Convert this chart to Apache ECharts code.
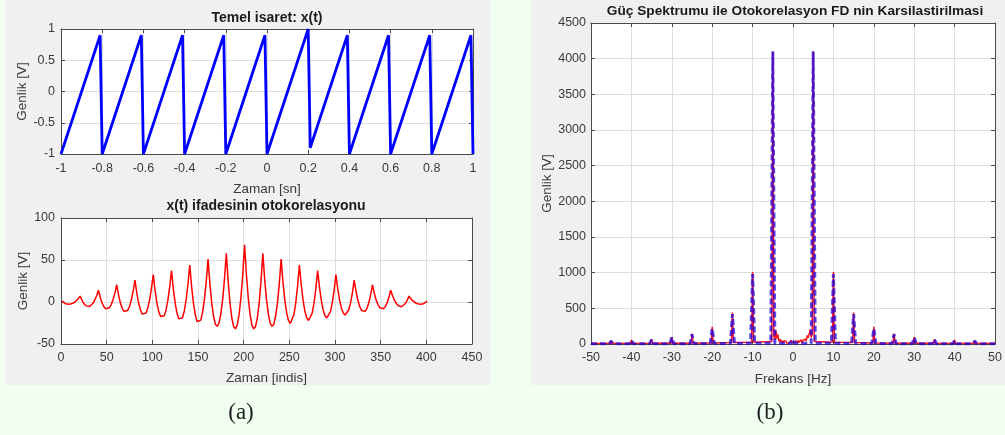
<!DOCTYPE html>
<html>
<head>
<meta charset="utf-8">
<title>Otokorelasyon ve Güç Spektrumu</title>
<script src="https://cdn.jsdelivr.net/npm/echarts@6/dist/echarts.min.js"></script>
<style>
  html, body { margin: 0; padding: 0; background: #f0fff0; }
  #wrap { position: relative; width: 1005px; height: 435px; overflow: hidden; }
  .panel { position: absolute; background: #f0f0f0; }
  #chart { position: absolute; left: 0; top: 0; width: 1005px; height: 435px; }
</style>
</head>
<body>
<div id="wrap">
  <div class="panel" style="left:5px;top:0;width:485px;height:385px"></div>
  <div class="panel" style="left:531px;top:0;width:474px;height:385px"></div>
  <div id="chart"></div>
</div>
<script>
// Sawtooth x(t): corner points of the waveform (time in s, amplitude in V)
const sawTime  = [-1, -0.81, -0.8, -0.61, -0.6, -0.41, -0.4, -0.21, -0.2, -0.01, 0, 0.2, 0.21, 0.39, 0.4, 0.59, 0.6, 0.79, 0.8, 0.99, 1];
const sawValue = [-1, 0.9, -1, 0.9, -1, 0.9, -1, 0.9, -1, 0.9, -1, 1, -0.9, 0.9, -1, 0.9, -1, 0.9, -1, 0.9, -1];

// Autocorrelation of x(t), every second lag index starting at 1
const acfFirstIndex = 1;
const acfIndexStep = 2;
const acfValues = [
  1, -0.7, -2, -2.7, -2.8, -2.5, -1.6, -0.3, 1.6, 4.1,
  7, 1.9, -1.8, -4.3, -5.6, -5.5, -4.2, -1.5, 2.4, 7.5,
  14, 5.4, -1.2, -5.7, -8.1, -8.5, -6.8, -3.1, 2.7, 10.6,
  20.5, 8.4, -1, -7.5, -11.1, -12, -10, -5.3, 2.3, 12.8,
  26, 10.5, -1.3, -9.6, -14.4, -15.5, -13.1, -7, 2.6, 15.7,
  32.5, 13.6, -1.1, -11.4, -17.3, -19, -16.3, -9.4, 1.9, 17.6,
  37.5, 15.6, -1.4, -13.3, -20.1, -22, -18.8, -10.7, 2.5, 20.8,
  44, 18.4, -1.3, -15.2, -23.3, -25.5, -21.9, -12.4, 2.9, 24,
  51, 21.6, -1, -17, -26.4, -29, -25, -14.2, 3.2, 27.2,
  58, 24.8, -0.8, -18.8, -29.2, -32, -27.2, -14.8, 5.2, 32.8,
  68, 32.8, 5.2, -14.8, -27.2, -32, -29.2, -18.8, -0.8, 24.8,
  58, 27.2, 3.2, -14.2, -25, -29, -26.4, -17, -1, 21.6,
  51, 24, 2.9, -12.4, -21.9, -25.5, -23.3, -15.2, -1.3, 18.4,
  44, 20.8, 2.5, -10.7, -18.8, -22, -20.1, -13.3, -1.4, 15.6,
  37.5, 17.6, 1.9, -9.4, -16.3, -19, -17.3, -11.4, -1.1, 13.6,
  32.5, 15.7, 2.6, -7, -13.1, -15.5, -14.4, -9.6, -1.3, 10.5,
  26, 12.8, 2.3, -5.3, -10, -12, -11.1, -7.5, -1, 8.4,
  20.5, 10.6, 2.7, -3.1, -6.8, -8.5, -8.1, -5.7, -1.2, 5.4,
  14, 7.5, 2.4, -1.5, -4.2, -5.5, -5.6, -4.3, -1.8, 1.9,
  7, 4.1, 1.6, -0.3, -1.6, -2.5, -2.8, -2.7, -2, -0.7,
  1
];

// Fourier transform of the autocorrelation (red, solid)
const acfSpecFreq = [-50, -45.25, -45, -44.75, -40.25, -40, -39.75, -35.25, -35, -34.75, -30.25, -30, -29.75,
  -25.25, -25, -24.75, -20.25, -20, -19.75, -15.25, -15, -14.75, -10.25, -10, -9.75, -5.25, -5,
  -4.75, -4.5, -4.25, -4, -3.75, -3.5, -3.25, -3, -2.75, -2.5, -2.25, -2, -1.75, -1.5, -1.25, -1, -0.75, -0.5, -0.25,
  0, 0.25, 0.5, 0.75, 1, 1.25, 1.5, 1.75, 2, 2.25, 2.5, 2.75, 3, 3.25, 3.5, 3.75, 4, 4.25, 4.5, 4.75, 5,
  5.25, 9.75, 10, 10.25, 14.75, 15, 15.25, 19.75, 20, 20.25, 24.75, 25, 25.25, 29.75, 30, 30.25,
  34.75, 35, 35.25, 39.75, 40, 40.25, 44.75, 45, 45.25, 50];
const acfSpecValue = [6, 8, 48, 8, 8, 55, 8, 10, 68, 10, 10, 95, 10,
  12, 145, 12, 15, 240, 15, 20, 440, 20, 25, 1010, 25, 35, 4100,
  110, 55, 190, 75, 135, 35, 70, 20, 50, 15, 45, 25, 40, 10, 35, 15, 30, 50, 20,
  35, 15, 25, 45, 15, 50, 20, 40, 60, 15, 55, 30, 70, 40, 120, 85, 110, 200, 90, 150, 4100,
  35, 25, 1010, 25, 20, 440, 20, 15, 240, 15, 12, 145, 12, 10, 95, 10,
  10, 68, 10, 8, 55, 8, 8, 48, 8, 6];

// Power spectrum |X(f)|^2 (blue, dashed)
const powerFreq = [-50, -45.5, -45, -44.5, -40.5, -40, -39.5, -35.5, -35, -34.5, -30.5, -30, -29.5,
  -25.5, -25, -24.5, -20.5, -20, -19.5, -15.5, -15, -14.5, -10.5, -10, -9.5, -5.5, -5, -4.5,
  -0.5, 0, 0.5, 4.5, 5, 5.5, 9.5, 10, 10.5, 14.5, 15, 15.5, 19.5, 20, 20.5, 24.5, 25, 25.5,
  29.5, 30, 30.5, 34.5, 35, 35.5, 39.5, 40, 40.5, 44.5, 45, 45.5, 50];
const powerValue = [5, 5, 40, 5, 5, 48, 5, 5, 62, 5, 5, 90, 5,
  5, 135, 5, 8, 215, 8, 8, 420, 8, 10, 980, 10, 10, 4100, 10,
  10, 65, 10, 10, 4100, 10, 10, 980, 10, 8, 420, 8, 8, 215, 8, 5, 135, 5,
  5, 90, 5, 5, 62, 5, 5, 48, 5, 5, 40, 5, 5];

const FONT = '"Liberation Sans", Arial, Helvetica, sans-serif';
const AXIS_COLOR = '#4a4a4a';
const TEXT_COLOR = '#3a3a3a';
const GRID_COLOR = '#dedede';

function zip(xs, ys) { return xs.map((x, i) => [x, ys[i]]); }
// plain tick text, no thousands separators
function plain(v) { return String(Math.round(v * 1000) / 1000); }

function bottomAxis(grid, min, max, step, name, gap, fs, margin) {
  return {
    type: 'value', gridIndex: grid, position: 'bottom', min: min, max: max, interval: step,
    name: name, nameLocation: 'middle', nameGap: gap,
    nameTextStyle: { fontFamily: FONT, fontSize: 13.5, color: TEXT_COLOR },
    axisLine: { show: true, onZero: false, lineStyle: { color: AXIS_COLOR, width: 1 } },
    axisTick: { show: true, inside: true, length: 4, lineStyle: { color: AXIS_COLOR } },
    axisLabel: { show: true, margin: margin, fontFamily: FONT, fontSize: fs, color: TEXT_COLOR,
                 showMinLabel: true, showMaxLabel: true, formatter: plain },
    splitLine: { show: true, lineStyle: { color: GRID_COLOR, width: 1 } }
  };
}
function topAxis(grid, min, max, step) {
  return {
    type: 'value', gridIndex: grid, position: 'top', min: min, max: max, interval: step,
    axisLine: { show: true, onZero: false, lineStyle: { color: AXIS_COLOR, width: 1 } },
    axisTick: { show: true, inside: true, length: 4, lineStyle: { color: AXIS_COLOR } },
    axisLabel: { show: false }, splitLine: { show: false }
  };
}
function leftAxis(grid, min, max, step, name, gap, fs, margin) {
  return {
    type: 'value', gridIndex: grid, position: 'left', min: min, max: max, interval: step,
    name: name, nameLocation: 'middle', nameGap: gap,
    nameTextStyle: { fontFamily: FONT, fontSize: 13.5, color: TEXT_COLOR },
    axisLine: { show: true, onZero: false, lineStyle: { color: AXIS_COLOR, width: 1 } },
    axisTick: { show: true, inside: true, length: 4, lineStyle: { color: AXIS_COLOR } },
    axisLabel: { show: true, margin: margin, fontFamily: FONT, fontSize: fs, color: TEXT_COLOR,
                 showMinLabel: true, showMaxLabel: true, formatter: plain },
    splitLine: { show: true, lineStyle: { color: GRID_COLOR, width: 1 } }
  };
}
function rightAxis(grid, min, max, step) {
  return {
    type: 'value', gridIndex: grid, position: 'right', min: min, max: max, interval: step,
    axisLine: { show: true, onZero: false, lineStyle: { color: AXIS_COLOR, width: 1 } },
    axisTick: { show: true, inside: true, length: 4, lineStyle: { color: AXIS_COLOR } },
    axisLabel: { show: false }, splitLine: { show: false }
  };
}

const acfData = acfValues.map((v, i) => [acfFirstIndex + i * acfIndexStep, v]);

const chart = echarts.init(document.getElementById('chart'), null, { renderer: 'canvas' });
chart.setOption({
  backgroundColor: 'transparent',
  animation: false,
  grid: [
    { left: 61, top: 29, width: 412, height: 125, show: true, backgroundColor: '#ffffff', borderWidth: 0 },
    { left: 61, top: 218, width: 411, height: 126, show: true, backgroundColor: '#ffffff', borderWidth: 0 },
    { left: 591, top: 23, width: 408, height: 321, show: true, backgroundColor: '#ffffff', borderWidth: 0 }
  ],
  xAxis: [
    bottomAxis(0, -1, 1, 0.2, 'Zaman [sn]', 28, 12.5, 8),
    topAxis(0, -1, 1, 0.2),
    bottomAxis(1, 0, 450, 50, 'Zaman [indis]', 27, 12.5, 7),
    topAxis(1, 0, 450, 50),
    bottomAxis(2, -50, 50, 10, 'Frekans [Hz]', 28, 12.5, 7),
    topAxis(2, -50, 50, 10)
  ],
  yAxis: [
    leftAxis(0, -1, 1, 0.5, 'Genlik [V]', 31, 12.5, 6),
    rightAxis(0, -1, 1, 0.5),
    leftAxis(1, -50, 100, 50, 'Genlik [V]', 31, 12.5, 6),
    rightAxis(1, -50, 100, 50),
    leftAxis(2, 0, 4500, 500, 'Genlik [V]', 33, 12.5, 5),
    rightAxis(2, 0, 4500, 500)
  ],
  graphic: [
    { type: 'text', x: 267, y: 18, style: { text: 'Temel isaret: x(t)', fontFamily: FONT, fontSize: 14, fontWeight: 'bold', fill: '#1a1a1a', align: 'center', verticalAlign: 'middle' } },
    { type: 'text', x: 266, y: 206, style: { text: 'x(t) ifadesinin otokorelasyonu', fontFamily: FONT, fontSize: 14, fontWeight: 'bold', fill: '#1a1a1a', align: 'center', verticalAlign: 'middle' } },
    { type: 'text', x: 795, y: 11, style: { text: 'Güç Spektrumu ile Otokorelasyon FD nin Karsilastirilmasi', fontFamily: FONT, fontSize: 13.7, fontWeight: 'bold', fill: '#1a1a1a', align: 'center', verticalAlign: 'middle' } },
    { type: 'text', x: 241, y: 413, style: { text: '(a)', fontFamily: '"Liberation Serif", "DejaVu Serif", serif', fontSize: 23, fill: '#222222', align: 'center', verticalAlign: 'middle' } },
    { type: 'text', x: 770, y: 413, style: { text: '(b)', fontFamily: '"Liberation Serif", "DejaVu Serif", serif', fontSize: 23, fill: '#222222', align: 'center', verticalAlign: 'middle' } }
  ],
  series: [
    {
      name: 'x(t)', type: 'line', xAxisIndex: 0, yAxisIndex: 0,
      data: zip(sawTime, sawValue), showSymbol: false, clip: true,
      lineStyle: { color: '#0000ff', width: 2.8 }
    },
    {
      name: 'Rxx', type: 'line', xAxisIndex: 2, yAxisIndex: 2,
      data: acfData, showSymbol: false, clip: true,
      lineStyle: { color: '#ff0000', width: 1.5 }
    },
    {
      name: 'Otokorelasyon FD', type: 'line', xAxisIndex: 4, yAxisIndex: 4,
      data: zip(acfSpecFreq, acfSpecValue), showSymbol: false, clip: true, z: 2,
      lineStyle: { color: 'rgba(255,0,0,0.9)', width: 1.5 }
    },
    {
      name: 'Güç Spektrumu', type: 'line', xAxisIndex: 4, yAxisIndex: 4,
      data: zip(powerFreq, powerValue), showSymbol: false, clip: true, z: 3,
      lineStyle: { color: 'rgba(25,0,230,0.72)', width: 3, type: [6, 3] }
    }
  ]
});
</script>
</body>
</html>
